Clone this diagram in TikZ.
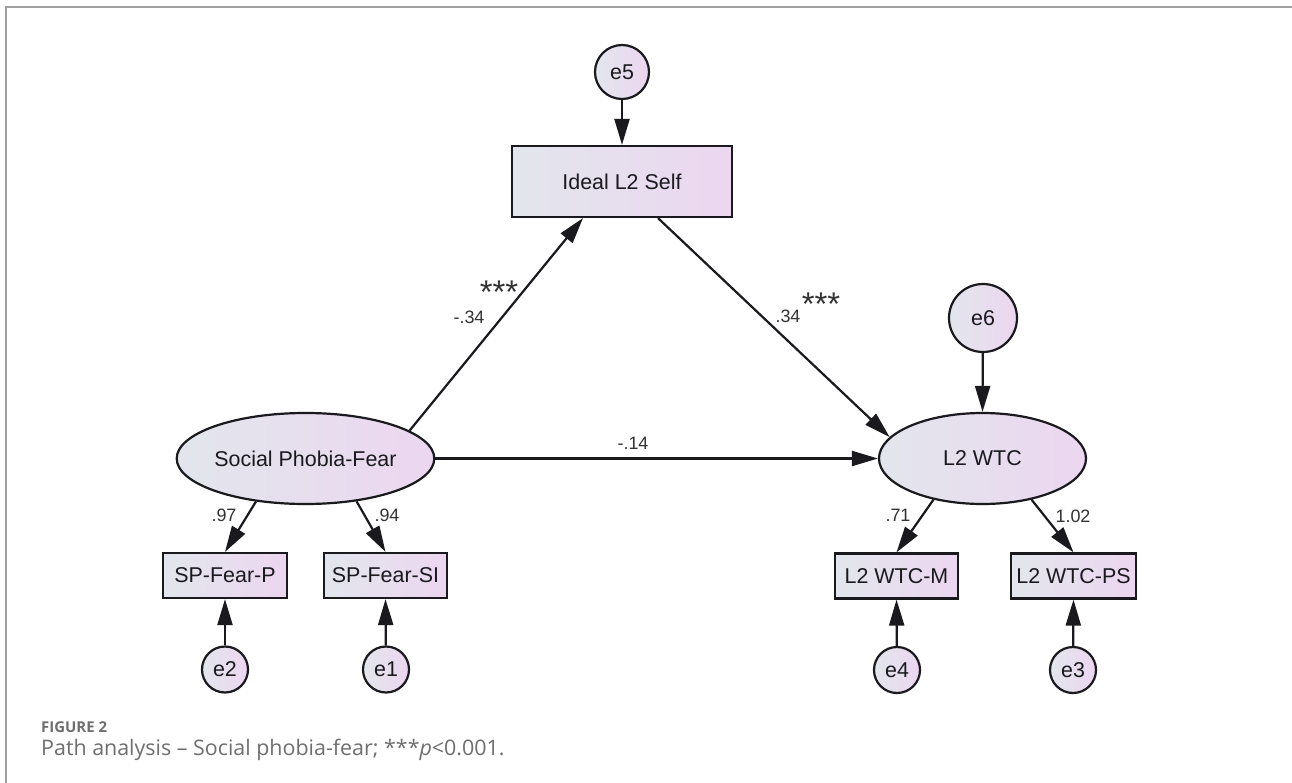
\documentclass[tikz,border=0pt]{standalone}
\usepackage{fontspec}
\setmainfont{Liberation Sans}
\newfontfamily\capfont{Open Sans}
\usetikzlibrary{shapes.geometric,arrows.meta}

\definecolor{fillL}{RGB}{226,230,236}
\definecolor{fillR}{RGB}{236,214,240}
\definecolor{ink}{RGB}{25,25,30}
\definecolor{labgray}{RGB}{50,50,50}
\definecolor{framegray}{RGB}{160,160,160}
\definecolor{capgray}{RGB}{110,110,110}

\tikzset{
  grad/.style={left color=fillL, right color=fillR, draw=ink, line width=2.2bp},
  latent/.style={ellipse, grad, inner sep=0pt, text=ink,
    font=\fontsize{21.5}{24}\selectfont, minimum height=91bp},
  obs/.style={rectangle, grad, inner sep=0pt, text=ink,
    font=\fontsize{21.5}{24}\selectfont, minimum height=45bp},
  err/.style={circle, grad, inner sep=0pt, text=ink,
    font=\fontsize{21.5}{24}\selectfont},
  link/.style={line width=2.2bp, draw=ink, -{Triangle[length=26bp,width=15bp]}},
  coef/.style={font=\fontsize{18}{21}\selectfont, text=labgray, anchor=base, inner sep=0pt},
  stars/.style={font=\fontsize{33}{35}\selectfont, text=labgray, anchor=base, inner sep=0pt}
}

\begin{document}
\begin{tikzpicture}[x=1bp, y=-1bp]
\useasboundingbox (0,0) rectangle (1292,783);

% frame of the figure panel
\draw[framegray, line width=1.5bp] (6,783) -- (6,7) -- (1292,7);

% latent variables
\node[latent, minimum width=204bp] (sp)  at (305.5,458.5) {Social Phobia-Fear};
\node[latent, minimum width=207bp] (wtc) at (982.5,458.5) {L2 WTC};

% mediator and indicators
\node[obs, minimum width=220bp, minimum height=71bp] (ideal) at (622,181.5) {Ideal L2 Self};
\node[obs, minimum width=124bp] (spp) at (225,575.5)  {SP-Fear-P};
\node[obs, minimum width=123bp] (spi) at (385.5,575.5) {SP-Fear-SI};
\node[obs, minimum width=123bp] (wm)  at (896.5,576)  {L2 WTC-M};
\node[obs, minimum width=125bp] (wps) at (1073.5,576) {L2 WTC-PS};

% error terms
\node[err, minimum size=54bp] (e5) at (622,72)  {e5};
\node[err, minimum size=68bp] (e6) at (983,318) {e6};
\node[err, minimum size=46bp] (e2) at (225,669.5) {e2};
\node[err, minimum size=46bp] (e1) at (386,669.5) {e1};
\node[err, minimum size=46bp] (e4) at (897,670) {e4};
\node[err, minimum size=46bp] (e3) at (1073,670) {e3};

% structural paths
\draw[link] (sp.15) -- ([xshift=-39bp]ideal.south);
\draw[link] ([xshift=36bp]ideal.south) -- (wtc.167);
\draw[link] (sp.east) -- (wtc.west);

% error paths
\draw[link] (e5) -- (ideal.north);
\draw[link] (e6) -- (wtc.north);
\draw[link] (e2) -- (spp.south);
\draw[link] (e1) -- (spi.south);
\draw[link] (e4) -- (wm.south);
\draw[link] (e3) -- (wps.south);

% measurement paths
\draw[link] (sp.221) -- (spp.north);
\draw[link] (sp.320) -- (spi.north);
\draw[link] (wtc.220) -- (wm.north);
\draw[link] (wtc.320) -- (wps.north);

% coefficients (significance stars sit above the baseline of their box)
\node[coef] (c1) at (469,323) {-.34};
\node[stars] (s1) at (499,303) {\smash{***}};
\node[coef] (c2) at (788,322) {.34};
\node[stars] (s2) at (821,315) {\smash{***}};
\node[coef] (c3) at (633,449) {-.14};
\node[coef] (c4) at (224,521) {.97};
\node[coef] (c5) at (387,521) {.94};
\node[coef] (c6) at (898,521) {.71};
\node[coef] (c7) at (1073,522) {1.02};

% caption
\node[anchor=base west, inner sep=0pt, text=capgray,
  font=\capfont\bfseries\fontsize{15}{17}\selectfont] (fig) at (41,732) {FIGURE 2};
\node[anchor=base west, inner sep=0pt, text=capgray,
  font=\capfont\fontsize{21.5}{24}\selectfont] (cap) at (41,755)
  {Path analysis – Social phobia-fear; ***\textit{p}<0.001.};
\end{tikzpicture}
\end{document}
